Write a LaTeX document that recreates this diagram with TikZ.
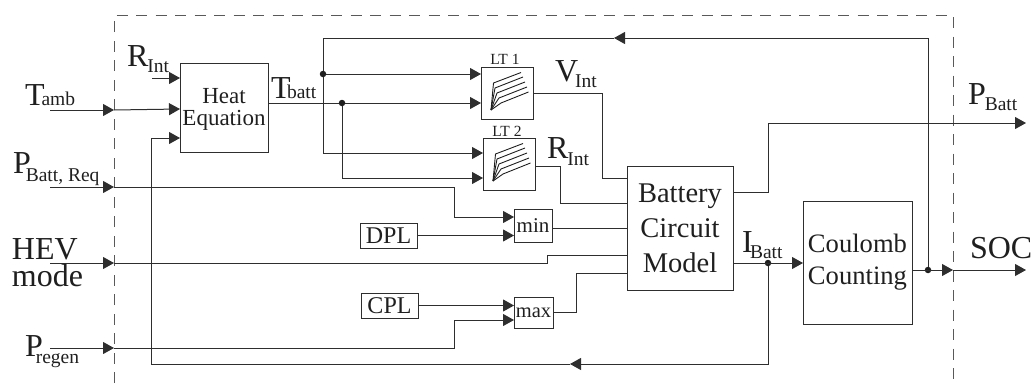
\documentclass[tikz,border=0pt]{standalone}
\usepackage{fontspec}
\setmainfont{Liberation Serif}
\usetikzlibrary{arrows.meta,calc}
\definecolor{ink}{gray}{0.12}
\definecolor{wire}{gray}{0.18}
\newcommand\BigSub[4]{{\fontsize{32}{32}\selectfont #1}\kern#3pt\raisebox{-#4pt}{\fontsize{19.5}{19.5}\selectfont #2}}
\tikzset{
  x=1pt,y=-1pt,
  every node/.style={text=ink,inner sep=0pt,outer sep=0pt},
  box/.style={draw=wire,line width=1pt,rectangle,align=center},
  wireline/.style={draw=wire,line width=1pt},
  arr/.style={wireline,-{Triangle[length=11pt,width=12pt]}},
  frame/.style={draw=black!65,line width=1pt,dash pattern=on 11pt off 8.5pt},
  lbl/.style={anchor=base west},
  dotj/.style={circle,fill=ink,minimum size=6.5pt},
  curve/.style={draw=ink,line width=0.9pt},
  ttl/.style={anchor=base,font=\fontsize{15.5}{15.5}\selectfont}
}
\begin{document}
\begin{tikzpicture}
\useasboundingbox (0,0) rectangle (1033,383);
% frame
\coordinate (fBL) at (114,383);
\coordinate (fTL) at (114,15);
\coordinate (fTR) at (953,15);
\coordinate (fBR) at (953,383);
\draw[frame] (fBL) -- (fTL) -- (fTR) -- (fBR);
% blocks
\node[box,minimum width=88pt,minimum height=89pt,font=\fontsize{23}{22}\selectfont] (heat) at (224,107.5) {\rule{0pt}{18.2pt}Heat\\Equation};
\node[box,minimum width=52pt,minimum height=52pt] (lta) at (507,93) {};
\node[box,minimum width=52pt,minimum height=52pt] (ltb) at (509,164) {};
\node[box,minimum width=106pt,minimum height=124pt,font=\fontsize{28.5}{35}\selectfont] (bcm) at (680,228) {Battery\\Circuit\\Model};
\node[box,minimum width=109pt,minimum height=123pt,font=\fontsize{26.6}{32}\selectfont] (cc) at (857.5,262.5) {Coulomb\\Counting};
\node[box,minimum width=38pt,minimum height=33pt,font=\fontsize{21}{21}\selectfont] (min) at (533,225.5) {min};
\node[box,minimum width=39pt,minimum height=31pt,font=\fontsize{20.5}{21}\selectfont] (max) at (533.5,312.5) {max};
\node[box,minimum width=57pt,minimum height=25pt,font=\fontsize{24}{24}\selectfont] (dpl) at (388.5,235.5) {DPL};
\node[box,minimum width=57pt,minimum height=25pt,font=\fontsize{24}{24}\selectfont] (cpl) at (389.5,305.5) {CPL};
\node[ttl] (lttla) at (505,64) {LT 1};
\node[ttl] (lttlb) at (507,136) {LT 2};
% lookup-table curves
\foreach \c in {lta,ltb}{
  \begin{scope}[shift={(\c.south west)}]
  \draw[curve] (10,-9) -- (12.5,-36) -- (40,-46.5);
  \draw[curve] (10,-9) -- (14,-31) -- (42,-42);
  \draw[curve] (10,-9) -- (16,-26) -- (44,-37);
  \draw[curve] (10,-9) -- (18,-21) -- (46,-32);
  \draw[curve] (10,-9) -- (20,-16) -- (47.5,-27);
  \end{scope}
}
% ports and junctions
\coordinate (inTamb) at (50,110);
\coordinate (fTamb) at (114,110);
\coordinate (inR) at (152,78);
\coordinate (inReq) at (50,187);
\coordinate (fReq) at (114,187);
\coordinate (inHev) at (50,263);
\coordinate (fHev) at (114,263);
\coordinate (inReg) at (50,348);
\coordinate (fReg) at (114,348);
\coordinate (outP) at (1026,123);
\coordinate (outS) at (1026,270);
\coordinate (fS) at (953,270);
\node[dotj] (jA) at (323,74) {};
\node[dotj] (jB) at (342,103) {};
\node[dotj] (jI) at (768,263) {};
\node[dotj] (jS) at (928,270) {};
\coordinate (topMid) at (614,38);
\coordinate (botMid) at (570,364);
% inputs
\draw[arr] (inTamb) -- (fTamb);
\draw[arr] (fTamb) -- (180,109);
\draw[arr] (inR) -- (inR -| heat.west);
\draw[arr] (inReq) -- (fReq);
\draw[arr] (fReq) -- (454,187) -- (454,217) -- (514,217);
\draw[arr] (inHev) -- (fHev);
\draw[wireline] (fHev) -- (547,263) -- (547,255) -- (bcm.west |- 0,255);
\draw[arr] (inReg) -- (fReg);
\draw[arr] (fReg) -- (454,348) -- (454,320) -- (max.west |- 0,320);
% temperature wiring
\draw[wireline] (heat.east |- jB) -- (jB);
\draw[arr] (jB) -- (lta.west |- jB);
\draw[arr] (jA) -- (lta.west |- jA);
\draw[arr] (jA) -- (323,153) -- (ltb.west |- 0,153);
\draw[arr] (jB) -- (342,178) -- (ltb.west |- 0,178);
% table outputs
\draw[wireline] (lta.east) -- (602,93) -- (602,178) -- (bcm.west |- 0,178);
\draw[wireline] (ltb.east |- 0,166) -- (560,166) -- (560,203) -- (bcm.west |- 0,203);
% limiters
\draw[arr] (dpl.east) -- (min.west |- dpl.east);
\draw[wireline] (min.east |- 0,228) -- (bcm.west |- 0,228);
\draw[arr] (cpl.east) -- (max.west |- cpl.east);
\draw[wireline] (max.east) -- (576,312.5) -- (576,273) -- (bcm.west |- 0,273);
% outputs
\draw[arr] (bcm.east |- 0,192) -- (768,192) -- (768,123) -- (outP);
\draw[arr] (bcm.east |- jI) -- (cc.west |- jI);
\draw[arr] (cc.east |- jS) -- (fS);
\draw[arr] (fS) -- (outS);
% feedbacks
\draw[arr] (jI) -- (768,364) -- (botMid);
\draw[arr] (botMid) -- (151,364) -- (151,138) -- (heat.west |- 0,138);
\draw[arr] (jS) -- (928,38) -- (topMid);
\draw[wireline] (topMid) -- (323,38) -- (jA);
% labels
\node[lbl] (tTamb) at (25,105) {\BigSub{T}{amb}{-3}{0}};
\node[lbl] (tRa) at (127,66) {\BigSub{R}{Int}{-1}{6}};
\node[lbl] (tReq) at (13,173) {\BigSub{P}{Batt, Req}{-5}{8.5}};
\node[anchor=north west,align=left,font=\fontsize{32}{27}\selectfont] (tHev) at (12,239) {HEV\\mode};
\node[lbl] (tReg) at (25,356) {\BigSub{P}{regen}{-7}{7}};
\node[lbl] (tTb) at (271,98) {\BigSub{T}{batt}{-3.5}{0}};
\node[lbl] (tV) at (555,81) {\BigSub{V}{Int}{-3}{6}};
\node[lbl] (tRb) at (547,158) {\BigSub{R}{Int}{-1}{7}};
\node[lbl] (tI) at (742,252) {\BigSub{I}{Batt}{-2.6}{6}};
\node[lbl] (tP) at (968,104) {\BigSub{P}{Batt}{-1}{6}};
\node[lbl,font=\fontsize{32}{32}\selectfont] (tS) at (970,258) {SOC};
\end{tikzpicture}
\end{document}
